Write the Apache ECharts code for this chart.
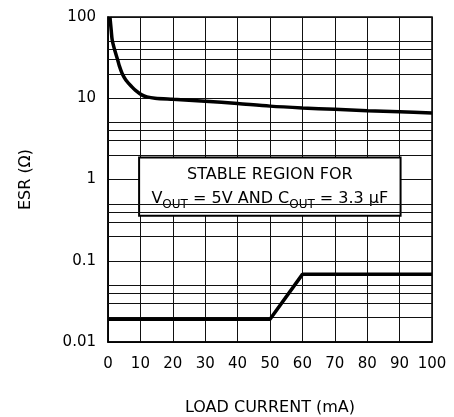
<!DOCTYPE html>
<html>
<head>
<meta charset="utf-8">
<script src="https://cdn.jsdelivr.net/npm/echarts@6/dist/echarts.min.js"></script>
<style>
html,body{margin:0;padding:0;background:#fff;}
#chart{width:454px;height:417px;}
</style>
</head>
<body>
<div id="chart"></div>
<script>
// Data
const xTicks = [0,10,20,30,40,50,60,70,80,90,100];
const yTicks = [0.01,0.1,1,10,100];
const upperX = [0.6, 1, 1.3, 2, 3, 3.5, 4.4, 5.5, 7.3, 8.5, 10.4, 12, 14.5, 20, 30, 40, 50, 60, 70, 80, 90, 100];
const upperY = [100, 68, 52, 40, 29.5, 25, 20, 16.8, 13.9, 12.5, 11.0, 10.4, 10.0, 9.7, 9.2, 8.6, 8.0, 7.6, 7.3, 7.0, 6.8, 6.6];
const lowerX = [0, 50, 60, 100];
const lowerY = [0.019, 0.019, 0.068, 0.068];
const minorGrid = [0.02,0.03,0.04,0.05, 0.2,0.3,0.4,0.5, 2,3,4,5, 20,30,40,50];
const boxCorners = [[9.6, 1.87], [90.3, 0.358]];
const boxLine1 = 'STABLE REGION FOR';
const xTitle = 'LOAD CURRENT (mA)';
const yTitle = 'ESR (Ω)';

const FONT = 'DejaVu Sans';
const chart = echarts.init(document.getElementById('chart'), null, {renderer:'canvas'});
const zip = (xs, ys) => xs.map((x,i)=>[x, ys[i]]);

chart.setOption({
  animation: false,
  backgroundColor: '#fff',
  grid: {left:108, right:22, top:17, bottom:75, containLabel:false, outerBoundsMode:'none',
         show:true, borderColor:'#000', borderWidth:1.5, backgroundColor:'transparent'},
  xAxis: {
    type:'value', min:0, max:100, interval:10,
    name: xTitle, nameLocation:'middle', nameGap:58,
    nameTextStyle:{fontFamily:FONT, fontSize:16, color:'#000'},
    axisLine:{show:true, lineStyle:{color:'#000', width:1.5}},
    axisTick:{show:false},
    axisLabel:{fontFamily:FONT, fontSize:15, color:'#000', margin:15},
    splitLine:{show:true, lineStyle:{color:'#111', width:1}}
  },
  yAxis: {
    type:'log', logBase:10, min:0.01, max:100,
    name: yTitle, nameLocation:'middle', nameGap:74, nameRotate:90,
    nameTextStyle:{fontFamily:FONT, fontSize:16, color:'#000'},
    axisLine:{show:true, lineStyle:{color:'#000', width:1.5}},
    axisTick:{show:false},
    axisLabel:{fontFamily:FONT, fontSize:15, color:'#000', margin:12,
      formatter: v => { const t = yTicks.find(k => Math.abs(Math.log10(k) - Math.log10(v)) < 1e-6); return t === undefined ? '' : String(t); }},
    splitLine:{show:true, lineStyle:{color:'#111', width:1}}
  },
  series: [
    {
      type:'line', data:[], z:1, silent:true,
      markLine:{
        silent:true, symbol:['none','none'], animation:false,
        label:{show:false},
        lineStyle:{color:'#111', width:1, type:'solid'},
        emphasis:{disabled:true},
        data: minorGrid.map(v => ({yAxis:v}))
      }
    },
    {
      type:'line', data:[], z:3, silent:true,
      markArea:{
        silent:true,
        itemStyle:{color:'#fff', borderColor:'#000', borderWidth:2, opacity:1},
        label:{
          show:true, position:'inside', color:'#000',
          formatter: '{t|' + boxLine1 + '}\n{t|V}{s|OUT}{t| = 5V AND C}{s|OUT}{t| = 3.3 μF}',
          rich:{
            t:{fontFamily:FONT, fontSize:16, color:'#000', lineHeight:24},
            s:{fontFamily:FONT, fontSize:12, color:'#000', lineHeight:14, verticalAlign:'bottom', padding:[9,0,0,0]}
          }
        },
        emphasis:{disabled:true},
        data:[[{coord:boxCorners[0]}, {coord:boxCorners[1]}]]
      }
    },
    {
      type:'line', data: zip(upperX, upperY), z:5, smooth:0.3, showSymbol:false, symbol:'none',
      lineStyle:{color:'#000', width:3.5}
    },
    {
      type:'line', data: zip(lowerX, lowerY), z:5, showSymbol:false, symbol:'none',
      lineStyle:{color:'#000', width:3.5}
    }
  ]
});
</script>
</body>
</html>
